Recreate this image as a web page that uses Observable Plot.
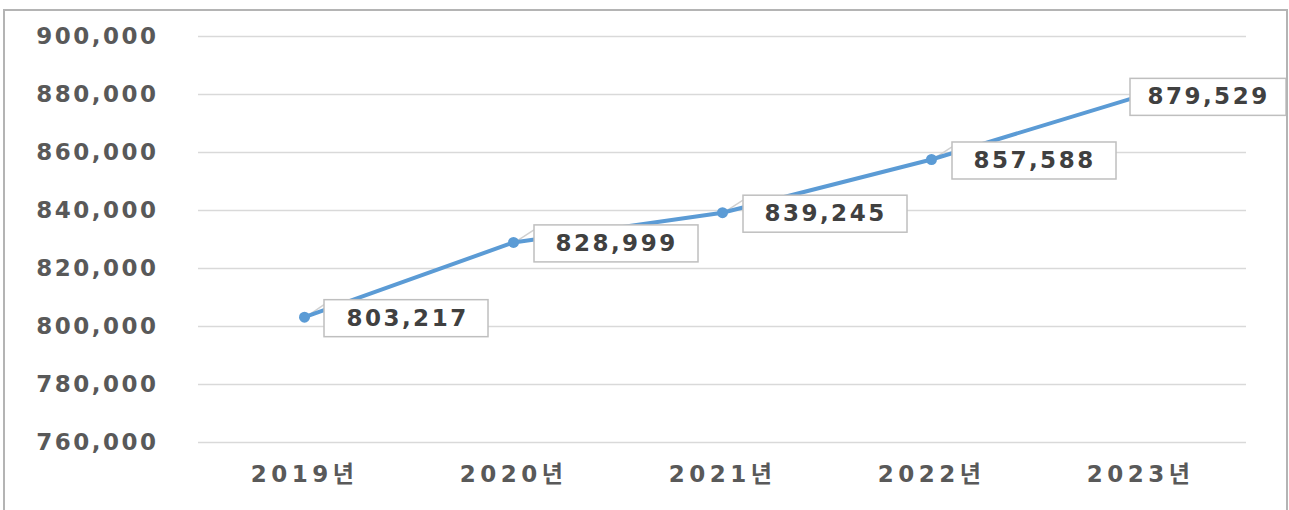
<!DOCTYPE html>
<html>
<head>
<meta charset="utf-8">
<script src="https://cdn.jsdelivr.net/npm/d3@7"></script>
<script src="https://cdn.jsdelivr.net/npm/@observablehq/plot@0.6"></script>
<style>
  html, body { margin: 0; padding: 0; background: #fff; overflow: hidden; }
  #wrap { position: relative; width: 1289px; height: 510px; }
  #border { position: absolute; left: 3px; top: 9px; width: 1285px; height: 520px;
            border: 2px solid #b4b4b4; box-sizing: border-box; pointer-events: none; }
  svg text { font-family: "DejaVu Sans", "Noto Sans CJK KR", sans-serif; font-weight: bold; }
</style>
</head>
<body>
<div id="wrap"><div id="border"></div></div>
<script>
const years = ["2019년", "2020년", "2021년", "2022년", "2023년"];
const values = [803217, 828999, 839245, 857588, 879529];
const yTicks = [760000, 780000, 800000, 820000, 840000, 860000, 880000, 900000];

const data = years.map((year, i) => ({year, value: values[i]}));
const fmt = d3.format(",");
const offsets = [102, 103, 103, 103, 68];
const boxWidths = [164, 164, 164, 164, 156];

const chart = Plot.plot({
  width: 1289,
  height: 510,
  marginLeft: 198,
  marginRight: 43,
  marginTop: 36,
  marginBottom: 68,
  style: {background: "transparent", fontSize: "23px", color: "#595959"},
  x: {type: "point", domain: years, padding: 0.5, label: null, tickSize: 0, tickPadding: 23},
  y: {domain: [760000, 900000], ticks: yTicks, tickFormat: fmt, label: null, tickSize: 0, tickPadding: 40},
  marks: [
    Plot.gridY(yTicks, {stroke: "#d9d9d9", strokeOpacity: 1, strokeWidth: 1.5}),
    Plot.line(data, {x: "year", y: "value", stroke: "#5b9bd5", strokeWidth: 4}),
    Plot.dot(data, {x: "year", y: "value", r: 5.5, fill: "#5b9bd5"}),
    Plot.text(data.slice(0, 4), {x: "year", y: "value", text: d => fmt(d.value), dx: 103, dy: 1, fill: "#404040", fontSize: 23}),
    Plot.text(data.slice(4), {x: "year", y: "value", text: d => fmt(d.value), dx: 68, dy: 1, fill: "#404040", fontSize: 23})
  ]
});
document.getElementById("wrap").prepend(chart);

// letter spacing to mimic the wide source font
chart.querySelectorAll('g[aria-label="y-axis tick label"] text, g[aria-label="text"] text')
  .forEach(t => t.setAttribute("letter-spacing", "2.5"));
chart.querySelectorAll('g[aria-label="x-axis tick label"] text')
  .forEach(t => t.setAttribute("letter-spacing", "4.5"));

// label boxes and leader lines, placed through the chart's scales
const sx = chart.scale("x"), sy = chart.scale("y");
const ns = "http://www.w3.org/2000/svg";
const leaders = document.createElementNS(ns, "g");
const boxes = document.createElementNS(ns, "g");
data.forEach((d, i) => {
  const px = sx.apply(d.year), py = sy.apply(d.value);
  const w = boxWidths[i], h = 37;
  const cx = px + offsets[i], cy = py + 1.5;
  if (i < 4) {
    const ln = document.createElementNS(ns, "line");
    ln.setAttribute("x1", px + 4); ln.setAttribute("y1", py - 1);
    ln.setAttribute("x2", cx - w / 2); ln.setAttribute("y2", cy - h / 2 + 5);
    ln.setAttribute("stroke", "#d0d0d0"); ln.setAttribute("stroke-width", 1.5);
    leaders.appendChild(ln);
  }
  const rect = document.createElementNS(ns, "rect");
  rect.setAttribute("x", cx - w / 2);
  rect.setAttribute("y", cy - h / 2);
  rect.setAttribute("width", w);
  rect.setAttribute("height", h);
  rect.setAttribute("fill", "#fff");
  rect.setAttribute("stroke", "#bfbfbf");
  rect.setAttribute("stroke-width", 1.5);
  boxes.appendChild(rect);
});
const lineG = chart.querySelector('g[aria-label="line"]');
lineG.parentNode.insertBefore(leaders, lineG);
const firstText = chart.querySelector('g[aria-label="text"]');
firstText.parentNode.insertBefore(boxes, firstText);
</script>
</body>
</html>
